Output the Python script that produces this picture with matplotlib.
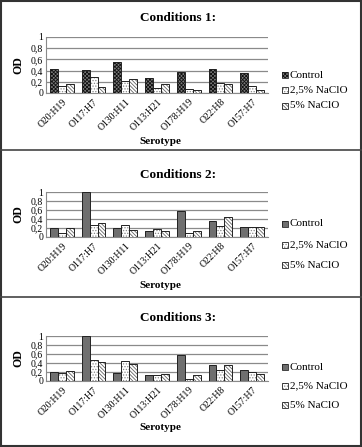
import matplotlib
matplotlib.use("Agg")
import matplotlib.pyplot as plt
import numpy as np
from matplotlib.patches import Rectangle

plt.rcParams['font.family'] = ['Liberation Serif', 'DejaVu Serif']
plt.rcParams['hatch.linewidth'] = 0.6

serotypes = ["O20:H19", "O117:H7", "O130:H11", "O113:H21", "O178:H19", "O22:H8", "O157:H7"]
series_names = ["Control", "2,5% NaClO", "5% NaClO"]
titles = ["Conditions 1:", "Conditions 2:", "Conditions 3:"]

c1_control = [0.42, 0.41, 0.55, 0.27, 0.38, 0.42, 0.36]
c1_25 = [0.13, 0.29, 0.22, 0.09, 0.07, 0.18, 0.12]
c1_5 = [0.16, 0.11, 0.25, 0.16, 0.05, 0.16, 0.06]

c2_control = [0.21, 0.99, 0.19, 0.13, 0.57, 0.35, 0.23]
c2_25 = [0.10, 0.27, 0.27, 0.17, 0.10, 0.24, 0.23]
c2_5 = [0.21, 0.31, 0.15, 0.14, 0.14, 0.44, 0.23]

c3_control = [0.20, 0.99, 0.18, 0.13, 0.57, 0.35, 0.24]
c3_25 = [0.18, 0.46, 0.45, 0.13, 0.04, 0.24, 0.20]
c3_5 = [0.23, 0.42, 0.37, 0.15, 0.13, 0.35, 0.16]

yticks = [0, 0.2, 0.4, 0.6, 0.8, 1]
ytick_labels = ["0", "0,2", "0,4", "0,6", "0,8", "1"]

W, H = 362, 447
fig = plt.figure(figsize=(W / 100, H / 100), dpi=100)

def fx(px):
    return px / W

def fy(py):
    return 1 - py / H

panels = [
    dict(top=37, bot=93, title=18, xlabel=141, ptop=0, pbot=150, leg=(75, 90, 106)),
    dict(top=192, bot=237, title=175, xlabel=285, ptop=150, pbot=297, leg=(224, 245, 265)),
    dict(top=336, bot=381, title=318, xlabel=427, ptop=297, pbot=447, leg=(367, 386, 405)),
]
data = [(c1_control, c1_25, c1_5), (c2_control, c2_25, c2_5), (c3_control, c3_25, c3_5)]

left_px, right_px = 46, 268
x = np.arange(len(serotypes))
bw = 0.25

for i, (p, d) in enumerate(zip(panels, data)):
    ax = fig.add_axes([fx(left_px), fy(p['bot']), fx(right_px - left_px), (p['bot'] - p['top']) / H])
    if i == 0:
        fills = [dict(facecolor='#7a7a7a', hatchcolor='#111111', hatch='x' * 9)]
    else:
        fills = [dict(facecolor='#6f6f6f', hatchcolor=None, hatch=None)]
    fills += [dict(facecolor='white', hatchcolor='#888888', hatch='.' * 6),
              dict(facecolor='white', hatchcolor='#666666', hatch='\\' * 9)]
    outline = '#222222'
    for k in range(3):
        f = fills[k]
        ax.bar(x + (k - 1) * bw, d[k], bw, facecolor=f['facecolor'],
               edgecolor=f['hatchcolor'] if f['hatch'] else f['facecolor'],
               hatch=f['hatch'], linewidth=0, zorder=3)
        ax.bar(x + (k - 1) * bw, d[k], bw, fill=False, edgecolor=outline, linewidth=0.7, zorder=4)
    ax.set_ylim(0, 1)
    ax.set_xlim(-0.5, len(serotypes) - 0.5)
    ax.set_yticks(yticks)
    ax.set_yticklabels(ytick_labels, fontsize=7)
    ax.yaxis.grid(True, color='#8a8a8a', linewidth=0.9, zorder=0)
    ax.set_axisbelow(True)
    ax.tick_params(axis='y', length=0, pad=2)
    ax.set_xticks(x)
    ax.set_xticklabels(serotypes, rotation=45, ha='right', rotation_mode='anchor', fontsize=7)
    ax.tick_params(axis='x', length=0, pad=3)
    for s in ['top', 'right']:
        ax.spines[s].set_visible(False)
    ax.spines['left'].set_color('#8a8a8a')
    ax.spines['bottom'].set_color('#8a8a8a')
    fig.text(fx(178), fy(p['title']), titles[i], ha='center', va='center',
             fontsize=9.5, fontweight='bold')
    fig.text(fx((left_px + right_px) / 2 + 3), fy(p['xlabel']), "Serotype", ha='center', va='center',
             fontsize=8, fontweight='bold')
    fig.text(fx(18), fy((p['top'] + p['bot']) / 2), "OD", ha='center', va='center', rotation=90,
             fontsize=8.5, fontweight='bold')
    for k in range(3):
        ly = p['leg'][k]
        f = fills[k]
        r = Rectangle((fx(282), fy(ly + 3)), fx(6), 6 / H, transform=fig.transFigure,
                      facecolor=f['facecolor'],
                      edgecolor=f['hatchcolor'] if f['hatch'] else f['facecolor'],
                      hatch=f['hatch'], linewidth=0)
        fig.add_artist(r)
        fig.add_artist(Rectangle((fx(282), fy(ly + 3)), fx(6), 6 / H, transform=fig.transFigure,
                                 fill=False, edgecolor=outline, linewidth=0.6))
        fig.text(fx(290), fy(ly), series_names[k], ha='left', va='center', fontsize=8)
    if i > 0:
        fig.add_artist(plt.Line2D([0, 1], [fy(p['ptop']), fy(p['ptop'])], transform=fig.transFigure,
                                  color='#444444', linewidth=1.2))

fig.add_artist(Rectangle((0.002, 0.002), 0.996, 0.996, transform=fig.transFigure, fill=False,
                         edgecolor='#333333', linewidth=1.5))

fig.savefig("out.png", dpi=100)
